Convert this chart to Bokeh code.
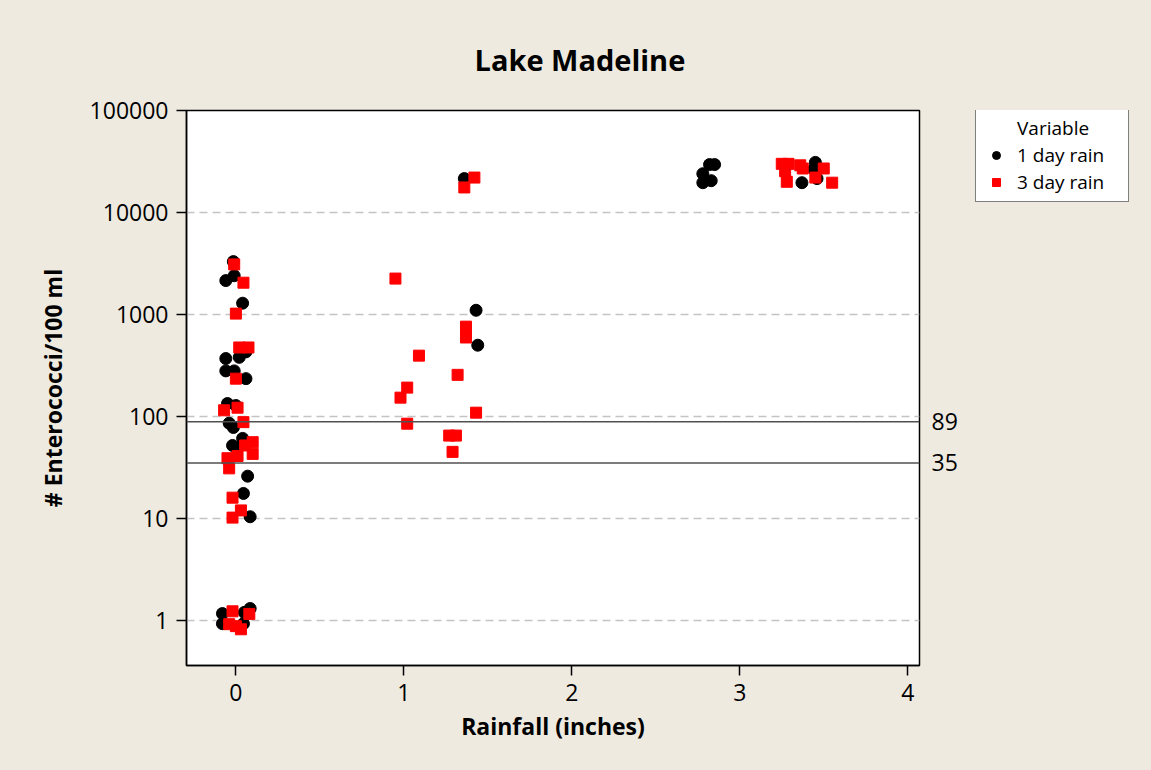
from bokeh.plotting import figure
from bokeh.layouts import row
from bokeh.models import (FixedTicker, NumeralTickFormatter, Span, Legend,
                          LegendItem, Range1d, LogAxis)
from bokeh.embed import file_html
from bokeh.resources import INLINE

FONT = "Open Sans"
title_text = "Lake Madeline"
x_label = "Rainfall (inches)"
y_label = "# Enterococci/100 ml"
series_names = ["1 day rain", "3 day rain"]
legend_title = "Variable"
x_ticks = [0, 1, 2, 3, 4]
y_ticks = [1, 10, 100, 1000, 10000, 100000]
ref_values = [89, 35]

# 1 day rain (black circles), jittered rainfall values
day1_rain = [-0.015, -0.06, -0.01, 0.04, 0.06, -0.06, 0.02, -0.06, -0.01, 0.06,
             -0.05, 0.0, -0.04, -0.015, 0.04, -0.02, 0.01, 0.07, 0.045, 0.085,
             -0.08, -0.08, 0.085, 0.05, 0.045,
             1.36, 1.43, 1.44,
             2.82, 2.85, 2.78, 2.78, 2.83,
             3.45, 3.44, 3.46, 3.37]
day1_count = [3300, 2150, 2400, 1290, 430, 370, 380, 280, 280, 235,
              134, 128, 86, 78, 61, 52, 49, 26, 17.6, 10.4,
              1.17, 0.93, 1.31, 1.2, 0.93,
              21500, 1100, 500,
              29500, 29500, 24000, 19600, 20500,
              31000, 26500, 21500, 19600]

# 3 day rain (red squares)
day3_rain = [-0.01, 0.045, 0.0, 0.02, 0.075, 0.0, -0.07, 0.01, 0.045, 0.1,
             0.055, 0.1, 0.01, -0.05, -0.04, -0.02, 0.03, -0.02,
             -0.02, -0.04, 0.03, 0.08, 0.0,
             0.95, 1.36, 1.42, 1.37, 1.37, 1.09, 1.32, 1.02, 0.98, 1.43,
             1.02, 1.27, 1.31, 1.29,
             3.25, 3.29, 3.27, 3.28, 3.36, 3.375, 3.50, 3.45, 3.55]
day3_count = [3100, 2050, 1020, 475, 475, 235, 115, 122, 88, 56,
              52, 43, 41, 39, 31, 16, 12, 10.2,
              1.23, 0.92, 0.82, 1.16, 0.88,
              2250, 17600, 22000, 760, 595, 395, 256, 192, 153, 109,
              85, 65, 65, 45,
              30000, 30000, 25400, 20000, 29000, 27000, 27000, 22000, 19600]

BG = "#EEEAE0"

main = figure(width=960, height=770, y_axis_type="log",
              x_range=Range1d(-0.294, 4.07), y_range=Range1d(0.362, 100000),
              output_backend="svg", toolbar_location=None,
              min_border_left=186, min_border_right=40,
              min_border_top=110, min_border_bottom=105,
              background_fill_color="white", border_fill_color=BG)

main.outline_line_color = "black"
main.outline_line_width = 1.5

# title
main.title.text = title_text
main.title.align = "left"
main.title.offset = 288
main.title.standoff = 63
main.title.text_font = FONT
main.title.text_font_size = "29px"
main.title.text_font_style = "bold"
main.title.text_color = "black"

# axes
main.xaxis.ticker = FixedTicker(ticks=x_ticks)
main.yaxis.ticker = FixedTicker(ticks=y_ticks)
main.yaxis.formatter = NumeralTickFormatter(format="0")
for ax in (main.xaxis[0], main.yaxis[0]):
    ax.major_tick_out = 10
    ax.major_tick_in = 0
    ax.minor_tick_line_color = None
    ax.axis_line_color = "black"
    ax.axis_line_width = 1.5
    ax.major_tick_line_color = "black"
    ax.major_tick_line_width = 1.5
    ax.major_label_text_font = FONT
    ax.major_label_text_font_size = "23px"
    ax.major_label_text_color = "black"
    ax.major_label_standoff = 8
    ax.axis_label_text_font = FONT
    ax.axis_label_text_font_size = "23px"
    ax.axis_label_text_font_style = "bold"
    ax.axis_label_text_color = "black"
main.xaxis.axis_label = x_label
main.yaxis.axis_label = y_label
main.xaxis.axis_label_standoff = 6
main.yaxis.axis_label_standoff = 18

main.xgrid.visible = False
main.ygrid.ticker = FixedTicker(ticks=y_ticks)
main.ygrid.grid_line_color = "#C4C4C4"
main.ygrid.grid_line_dash = "8 5"
main.ygrid.grid_line_width = 1.3

# reference lines and their labels (as a right-hand axis)
for v in ref_values:
    main.add_layout(Span(location=v, dimension="width", line_color="#505050",
                         line_width=1.5))
ref_axis = LogAxis(ticker=FixedTicker(ticks=ref_values),
                   formatter=NumeralTickFormatter(format="0"),
                   axis_line_color=None, major_tick_line_color=None,
                   minor_tick_line_color=None, major_tick_out=0, major_tick_in=0,
                   major_label_standoff=12, major_label_text_font=FONT,
                   major_label_text_font_size="23px",
                   major_label_text_color="black")
main.add_layout(ref_axis, "right")

main.scatter(day1_rain, day1_count, marker="circle", size=12,
             fill_color="black", line_color="black")
main.scatter(day3_rain, day3_count, marker="square", size=11,
             fill_color="#FF0000", line_color="#FF0000")

# legend panel (separate figure to the right, frame aligned with the main one)
leg = figure(width=191, height=770, output_backend="svg", toolbar_location=None,
             x_range=Range1d(0, 1), y_range=Range1d(0, 1),
             x_axis_location=None, y_axis_location=None,
             min_border_left=0, min_border_right=0,
             min_border_top=110, min_border_bottom=105,
             background_fill_color=BG, border_fill_color=BG)
leg.outline_line_color = None
leg.grid.visible = False
# proxy renderers for the legend swatches (their single point lies outside this
# panel's ranges, so only the legend glyph is seen)
dummy = leg.scatter(day1_rain[:1], day1_count[:1], marker="circle", size=1,
                    fill_alpha=0, line_alpha=0)
g1 = leg.scatter(day1_rain[:1], day1_count[:1], marker="circle", size=12,
                 fill_color="black", line_color="black")
g3 = leg.scatter(day3_rain[:1], day3_count[:1], marker="square", size=11,
                 fill_color="#FF0000", line_color="#FF0000")

legend = Legend(items=[LegendItem(label=legend_title, renderers=[dummy]),
                       LegendItem(label=series_names[0], renderers=[g1]),
                       LegendItem(label=series_names[1], renderers=[g3])],
                location=(15, 463), padding=6, spacing=1, margin=0,
                glyph_width=28, glyph_height=20, label_height=20, label_width=105,
                label_standoff=7, label_text_font=FONT, label_text_font_size="19px",
                label_text_color="black", border_line_color="black",
                border_line_width=1, background_fill_color="white",
                background_fill_alpha=1.0)
leg.add_layout(legend)

p = row(main, leg, styles={"background-color": BG})

open("out.html", "w").write(file_html(p, INLINE))
